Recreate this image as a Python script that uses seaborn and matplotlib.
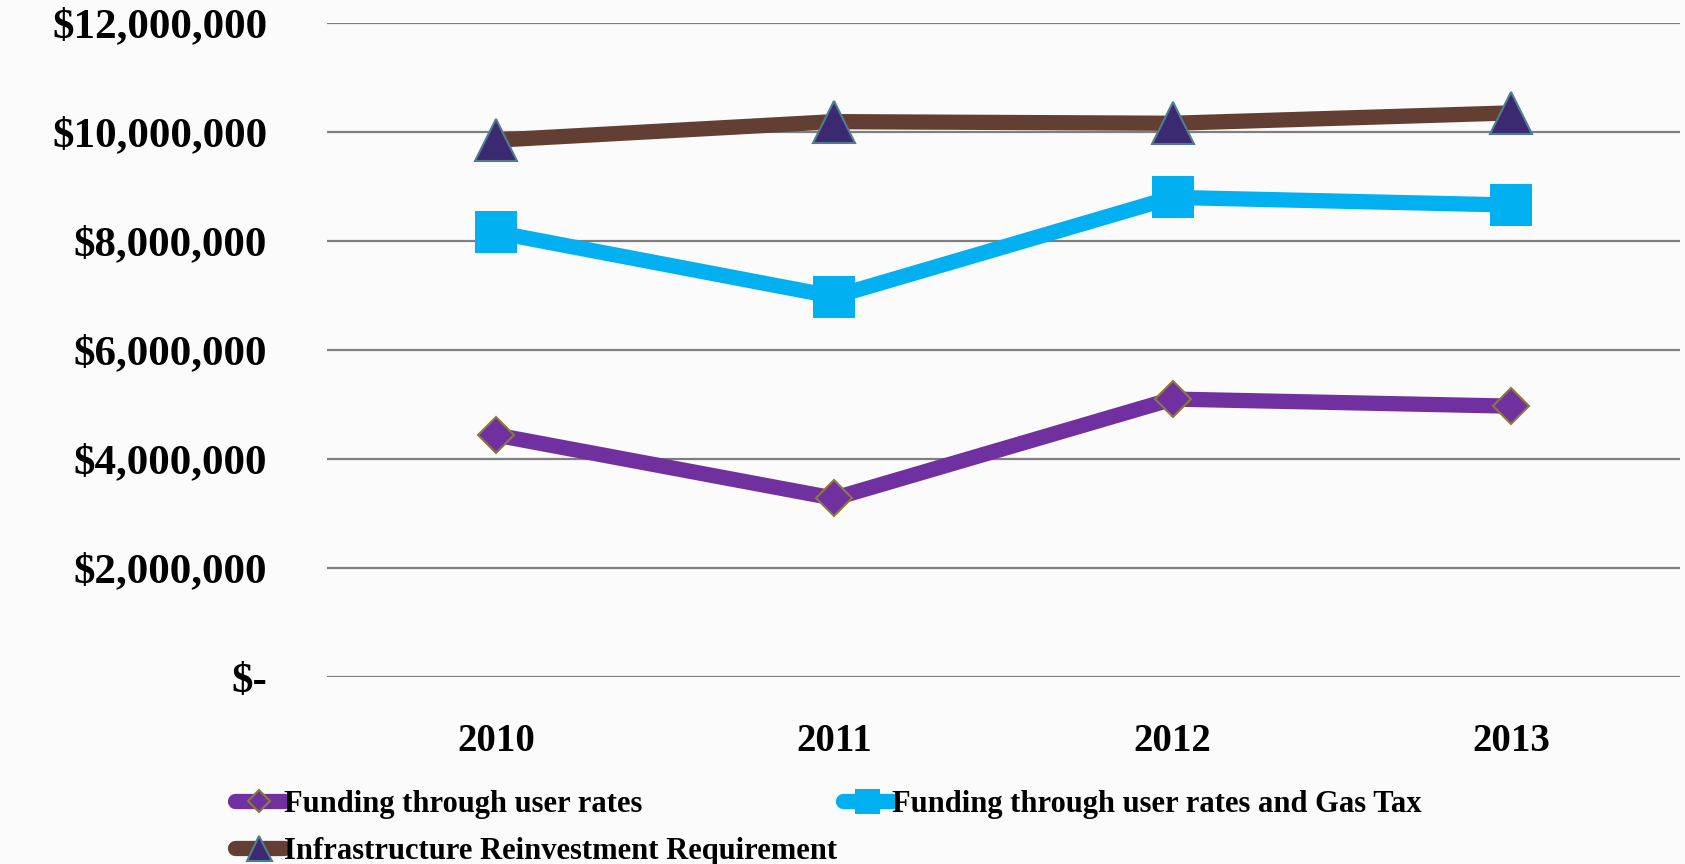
import pandas as pd
import matplotlib.pyplot as plt
import seaborn as sns
from matplotlib.ticker import FuncFormatter

# Data
years = ["2010", "2011", "2012", "2013"]
user_rates = [4440000, 3280000, 5100000, 4970000]
user_rates_gas_tax = [8160000, 6980000, 8800000, 8660000]
reinvestment = [9850000, 10190000, 10160000, 10350000]

series_names = [
    "Funding through user rates",
    "Funding through user rates and Gas Tax",
    "Infrastructure Reinvestment Requirement",
]

sns.set_theme(style="white")
plt.rcParams['font.family'] = ['Liberation Serif', 'DejaVu Serif']

fig = plt.figure(figsize=(16.85, 8.64), dpi=100)
fig.patch.set_facecolor('#fbfbfb')
ax = fig.add_axes([0.194, 0.2164, 0.803, 0.7570])
ax.set_facecolor('#fbfbfb')

df = pd.DataFrame({"Year": years})

# Line styles for each series
sns.lineplot(x=df["Year"], y=user_rates, ax=ax, color='#7030A0', linewidth=11,
             marker='D', markersize=18, markerfacecolor='#7030A0',
             markeredgecolor='#8C7A3A', markeredgewidth=1.5, label=series_names[0])
sns.lineplot(x=df["Year"], y=user_rates_gas_tax, ax=ax, color='#00B0F0', linewidth=11,
             marker='s', markersize=30, markerfacecolor='#00B0F0',
             markeredgecolor='#00B0F0', markeredgewidth=0, label=series_names[1])
sns.lineplot(x=df["Year"], y=reinvestment, ax=ax, color='#633F33', linewidth=11,
             marker='^', markersize=30, markerfacecolor='#3B2A72',
             markeredgecolor='#4F7D8F', markeredgewidth=1.5, label=series_names[2])

ax.set_xlim(-0.5, 3.5)
ax.set_ylim(0, 12000000)
ax.set_yticks(range(0, 12000001, 2000000))


def money(v, pos):
    if v == 0:
        return "$-"
    return "${:,.0f}".format(v)


ax.yaxis.set_major_formatter(FuncFormatter(money))
ax.grid(axis='y', color='#7f7f7f', linewidth=1.6)
ax.grid(axis='x', visible=False)
for s in ax.spines.values():
    s.set_visible(False)
ax.set_xlabel("")
ax.set_ylabel("")
ax.tick_params(axis='y', labelsize=31, pad=43, length=0, labelcolor='black')
ax.tick_params(axis='x', labelsize=28, pad=33, length=0, labelcolor='black')
for lbl in ax.get_yticklabels() + ax.get_xticklabels():
    lbl.set_fontweight('bold')

handles, labels = ax.get_legend_handles_labels()
ax.get_legend().remove()
# reorder so legend fills row by row
order = [0, 2, 1]
fig.legend([handles[i] for i in order], [labels[i] for i in order],
           loc='lower left', bbox_to_anchor=(0.123, -0.034), ncol=2,
           frameon=False, prop={'size': 22, 'weight': 'bold'},
           handlelength=1.6, handletextpad=0.0, columnspacing=0.2,
           labelspacing=0.6, markerscale=0.6, labelcolor='black')

plt.savefig("out.png", dpi=100, facecolor=fig.get_facecolor())
plt.close()
